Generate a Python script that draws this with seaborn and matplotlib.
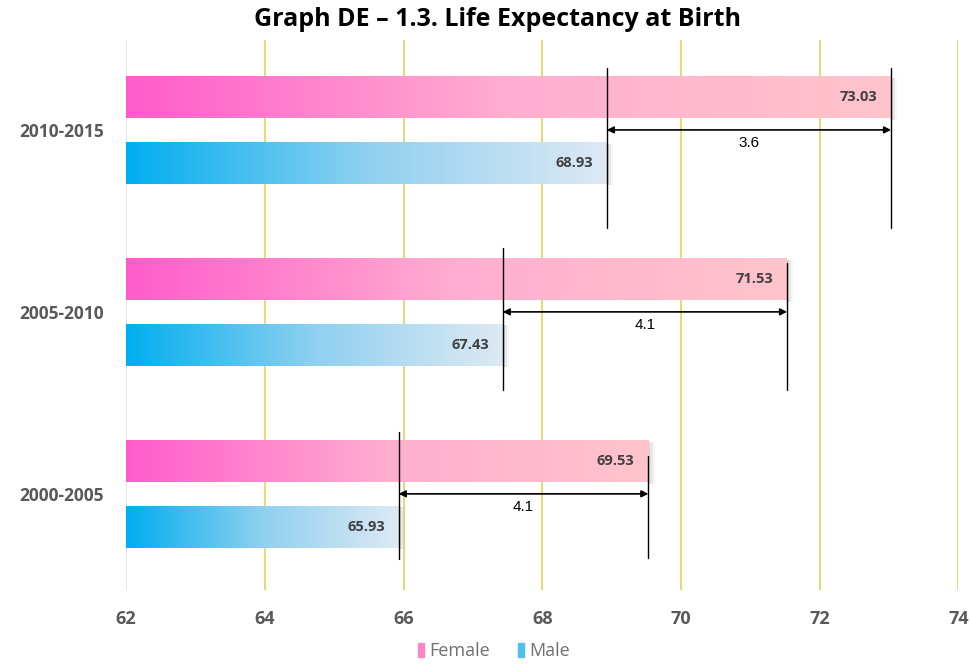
import pandas as pd
import numpy as np
import matplotlib
matplotlib.use('Agg')
import matplotlib.pyplot as plt
import seaborn as sns
from matplotlib.colors import LinearSegmentedColormap
from matplotlib.patches import Rectangle

# Data
periods = ['2010-2015', '2005-2010', '2000-2005']
female = [73.03, 71.53, 69.53]
male = [68.93, 67.43, 65.93]
gap_labels = ['3.6', '4.1', '4.1']
x_ticks = [62, 64, 66, 68, 70, 72, 74]

df = pd.DataFrame({
    'period': periods * 2,
    'value': female + male,
    'sex': ['Female'] * 3 + ['Male'] * 3,
})

sns.set_style('white')
plt.rcParams['font.family'] = ['Open Sans', 'DejaVu Sans']

fig = plt.figure(figsize=(9.71, 6.64), dpi=100)
ax = fig.add_axes([0.13, 0.111, 0.857, 0.829])

sns.barplot(data=df, x='value', y='period', hue='sex', orient='h',
            width=0.72, gap=0.36, legend=False, ax=ax,
            palette={'Female': '#ff66cc', 'Male': '#00b0f0'})

xmin, xmax = 62, 74
ylim = (2.53, -0.495)

grads = {
    'Female': LinearSegmentedColormap.from_list('f', ['#ff5ccb', '#ffaed0', '#ffc4cc']),
    'Male': LinearSegmentedColormap.from_list('m', ['#00aeef', '#8fd0f0', '#dde9f3']),
}
ramp = np.linspace(0, 1, 256).reshape(1, -1)

# gradient fill for each bar
for patch, sex in zip(ax.patches, ['Female'] * 3 + ['Male'] * 3):
    x1 = patch.get_x() + patch.get_width()
    y0 = patch.get_y()
    h = patch.get_height()
    patch.set_visible(False)
    # soft shadow on the right end
    for k, a in enumerate([0.14, 0.09, 0.05]):
        ax.add_patch(Rectangle((x1, y0 + 0.01), 0.03 + 0.03 * k, h,
                               color='#606060', alpha=a, lw=0, zorder=1))
    ax.imshow(ramp, cmap=grads[sex], aspect='auto',
              extent=(xmin, x1, y0 + h, y0), zorder=2)

# value labels inside bar ends
for i in range(3):
    for val, off in [(female[i], -0.18), (male[i], 0.18)]:
        ax.text(val - 0.2, i + off, f'{val:.2f}', ha='right', va='center',
                fontsize=10.5, fontweight='bold', color='#404040', zorder=4)

# difference brackets (line extents vary slightly per group as in the source)
left_span = [(-0.34, 0.54), (-0.35, 0.43), (-0.34, 0.36)]
right_span = [(-0.34, 0.54), (-0.27, 0.43), (-0.21, 0.35)]
for i in range(3):
    ax.plot([male[i]] * 2, [i + s for s in left_span[i]], color='black', lw=1, zorder=5)
    ax.plot([female[i]] * 2, [i + s for s in right_span[i]], color='black', lw=1, zorder=5)
    ax.annotate('', xy=(female[i], i), xytext=(male[i], i),
                arrowprops=dict(arrowstyle='<|-|>', color='black', lw=1.2,
                                mutation_scale=10, shrinkA=0, shrinkB=0),
                zorder=5)
    ax.text((male[i] + female[i]) / 2, i + 0.035, gap_labels[i], ha='center',
            va='top', fontsize=11, color='black', zorder=5,
            family=['Liberation Sans', 'DejaVu Sans'])

# vertical grid lines
for t in x_ticks:
    ax.axvline(t, color='#dcdcdc' if t == 62 else '#ddd24a', lw=1.1, zorder=0)

ax.set_xlim(xmin, xmax)
ax.set_ylim(*ylim)
ax.set_xticks(x_ticks)
ax.set_xticklabels([str(t) for t in x_ticks], fontsize=13, fontweight='bold',
                   color='#595959')
ax.tick_params(axis='x', length=0, pad=14)
ax.tick_params(axis='y', length=0, pad=16, labelsize=12.5, labelcolor='#595959')
for lab in ax.get_yticklabels():
    lab.set_fontweight('bold')
ax.set_xlabel('')
ax.set_ylabel('')
sns.despine(ax=ax, left=True, bottom=True)
ax.grid(False)

fig.suptitle('Graph DE \u2013 1.3. Life Expectancy at Birth', x=0.512, y=0.99,
             fontsize=18, fontweight='bold', color='black')

# legend
fig.patches.append(Rectangle((0.43, 0.01), 0.0065, 0.022, transform=fig.transFigure,
                             color='#ff85c8', figure=fig))
fig.text(0.442, 0.02, 'Female', fontsize=13, color='#707070', va='center')
fig.patches.append(Rectangle((0.533, 0.01), 0.0065, 0.022, transform=fig.transFigure,
                             color='#4fc0ee', figure=fig))
fig.text(0.545, 0.02, 'Male', fontsize=13, color='#707070', va='center')

fig.savefig('out.png', dpi=100)
